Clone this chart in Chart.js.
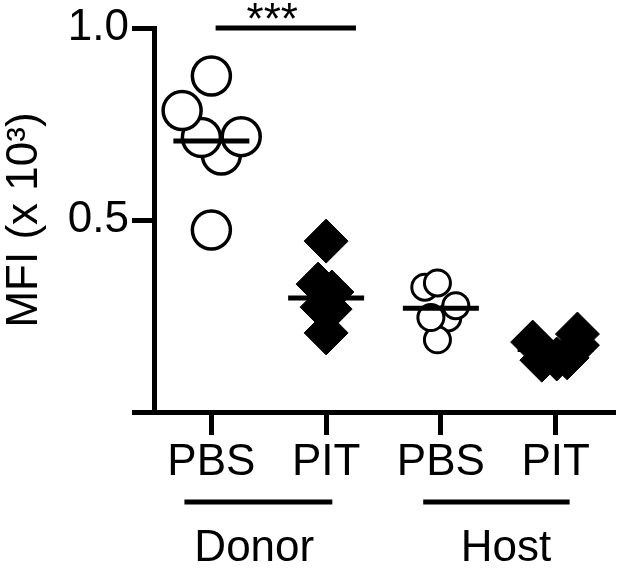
<!DOCTYPE html>
<html>
<head>
<meta charset="utf-8">
<script src="https://cdn.jsdelivr.net/npm/chart.js@4.4.1/dist/chart.umd.min.js"></script>
<style>
  html, body { margin: 0; padding: 0; background: #fff; }
  #wrap { width: 617px; height: 569px; position: relative; }
</style>
</head>
<body>
<div id="wrap"><canvas id="mfiChart"></canvas></div>
<script>
// categories on the x axis (positions 1..4)
const categories = ['PBS', 'PIT', 'PBS', 'PIT'];
const groupLabels = ['Donor', 'Host'];
const groupFrom = [0.765, 2.846];
const groupTo = [2.054, 4.122];
const groupLabelAt = [1.374, 3.568];

// y ticks
const yTicks = [0, 0.5, 1.0];
const yTickLabels = ['', '0.5', '1.0'];

// MFI values (x 10^3), with horizontal scatter offsets
const donorPBS = [0.669, 0.715, 0.785, 0.717, 0.875, 0.474];
const donorPBSJitter = [0.087, -0.087, -0.255, 0.26, 0, 0];
const donorPIT = [0.445, 0.333, 0.3125, 0.273, 0.268, 0.206];
const donorPITJitter = [0, -0.07, 0.05, -0.035, 0.035, 0];
const hostPBS = [0.245, 0.188, 0.277, 0.246, 0.325, 0.336];
const hostPBSJitter = [0.06, -0.03, 0.13, -0.087, -0.14, -0.03];
const hostPIT = [0.182, 0.203, 0.174, 0.135, 0.138, 0.141];
const hostPITJitter = [-0.2, 0.19, 0.19, -0.12, 0.01, 0.1];

// mean lines
const means = [0.706, 0.297, 0.270, 0.163];

// significance bracket
const sigFrom = 1.037;
const sigTo = 2.26;
const sigValue = 1.0;
const sigText = '***';
const sigTextAt = 1.53;

const FONT = "'Liberation Sans', Arial, sans-serif";
Chart.defaults.font.family = FONT;
Chart.defaults.color = '#000';

function toPoints(values, jitter, pos) {
    return values.map((v, i) => ({ x: pos + jitter[i], y: v }));
}

const extras = {
    id: 'extras',
    afterDraw(chart) {
        const ctx = chart.ctx;
        const xs = chart.scales.x;
        const ys = chart.scales.y;
        const bottom = chart.chartArea.bottom;
        ctx.save();
        ctx.strokeStyle = '#000';
        ctx.fillStyle = '#000';
        ctx.lineWidth = 5;

        // *** bracket
        const sy = ys.getPixelForValue(sigValue);
        ctx.beginPath();
        ctx.moveTo(xs.getPixelForValue(sigFrom), sy);
        ctx.lineTo(xs.getPixelForValue(sigTo), sy);
        ctx.stroke();
        ctx.font = '44px ' + FONT;
        ctx.textAlign = 'center';
        ctx.textBaseline = 'alphabetic';
        ctx.fillText(sigText, xs.getPixelForValue(sigTextAt), sy + 6);

        // group lines and labels under the axis
        groupLabels.forEach((g, i) => {
            ctx.beginPath();
            ctx.moveTo(xs.getPixelForValue(groupFrom[i]), bottom + 90);
            ctx.lineTo(xs.getPixelForValue(groupTo[i]), bottom + 90);
            ctx.stroke();
            ctx.fillText(g, xs.getPixelForValue(groupLabelAt[i]), bottom + 149);
        });
        ctx.restore();
    }
};

const circleStyle = { pointStyle: 'circle', pointBackgroundColor: '#fff', pointBorderColor: '#000' };
const diamondStyle = { pointStyle: 'rectRot', pointBackgroundColor: '#000', pointBorderColor: '#000', pointRadius: 22, pointBorderWidth: 1 };

new Chart(document.getElementById('mfiChart'), {
    type: 'scatter',
    data: {
        datasets: [
            {
                label: 'mean',
                data: means.map((m, i) => ({ x: i + 1, y: m })),
                pointStyle: 'line',
                pointRadius: 38,
                pointBorderWidth: 5,
                pointBorderColor: '#000',
                order: 0
            },
            Object.assign({ label: 'Donor PBS', data: toPoints(donorPBS, donorPBSJitter, 1), pointRadius: 19, pointBorderWidth: 3.5, order: 1 }, circleStyle),
            Object.assign({ label: 'Donor PIT', data: toPoints(donorPIT, donorPITJitter, 2), order: 1 }, diamondStyle),
            Object.assign({ label: 'Host PBS', data: toPoints(hostPBS, hostPBSJitter, 3), pointRadius: 13, pointBorderWidth: 3, order: 1 }, circleStyle),
            Object.assign({ label: 'Host PIT', data: toPoints(hostPIT, hostPITJitter, 4), order: 1 }, diamondStyle)
        ]
    },
    options: {
        responsive: true,
        maintainAspectRatio: false,
        animation: false,
        clip: false,
        layout: { autoPadding: false, padding: { top: 28, right: 4, bottom: 0, left: 0 } },
        plugins: { legend: { display: false }, tooltip: { enabled: false } },
        scales: {
            x: {
                type: 'linear',
                min: 0.5,
                max: 4.5,
                afterBuildTicks: s => { s.ticks = categories.map((c, i) => ({ value: i + 1 })); },
                afterFit: s => { s.height = 157; },
                ticks: {
                    callback: v => categories[v - 1],
                    font: { size: 44, lineHeight: 1.2 },
                    color: '#000',
                    padding: 1,
                    autoSkip: false,
                    maxRotation: 0
                },
                grid: { drawOnChartArea: false, tickLength: 23, tickWidth: 5, lineWidth: 5, tickColor: '#000', color: '#000' },
                border: { display: true, width: 5, color: '#000' }
            },
            y: {
                min: 0,
                max: 1.0,
                afterBuildTicks: s => { s.ticks = yTicks.map(v => ({ value: v })); },
                afterFit: s => { s.width = 154; },
                ticks: {
                    callback: v => yTickLabels[yTicks.indexOf(v)],
                    font: { size: 44, lineHeight: 1 },
                    color: '#000',
                    padding: 3
                },
                grid: { drawOnChartArea: false, tickLength: 22, tickWidth: 5, lineWidth: 5, tickColor: '#000', color: '#000' },
                border: { display: true, width: 5, color: '#000' },
                title: {
                    display: true,
                    text: 'MFI (x 10³)',
                    font: { size: 44, lineHeight: 1.14 },
                    color: '#000',
                    padding: 0
                }
            }
        }
    },
    plugins: [extras]
});
</script>
</body>
</html>
